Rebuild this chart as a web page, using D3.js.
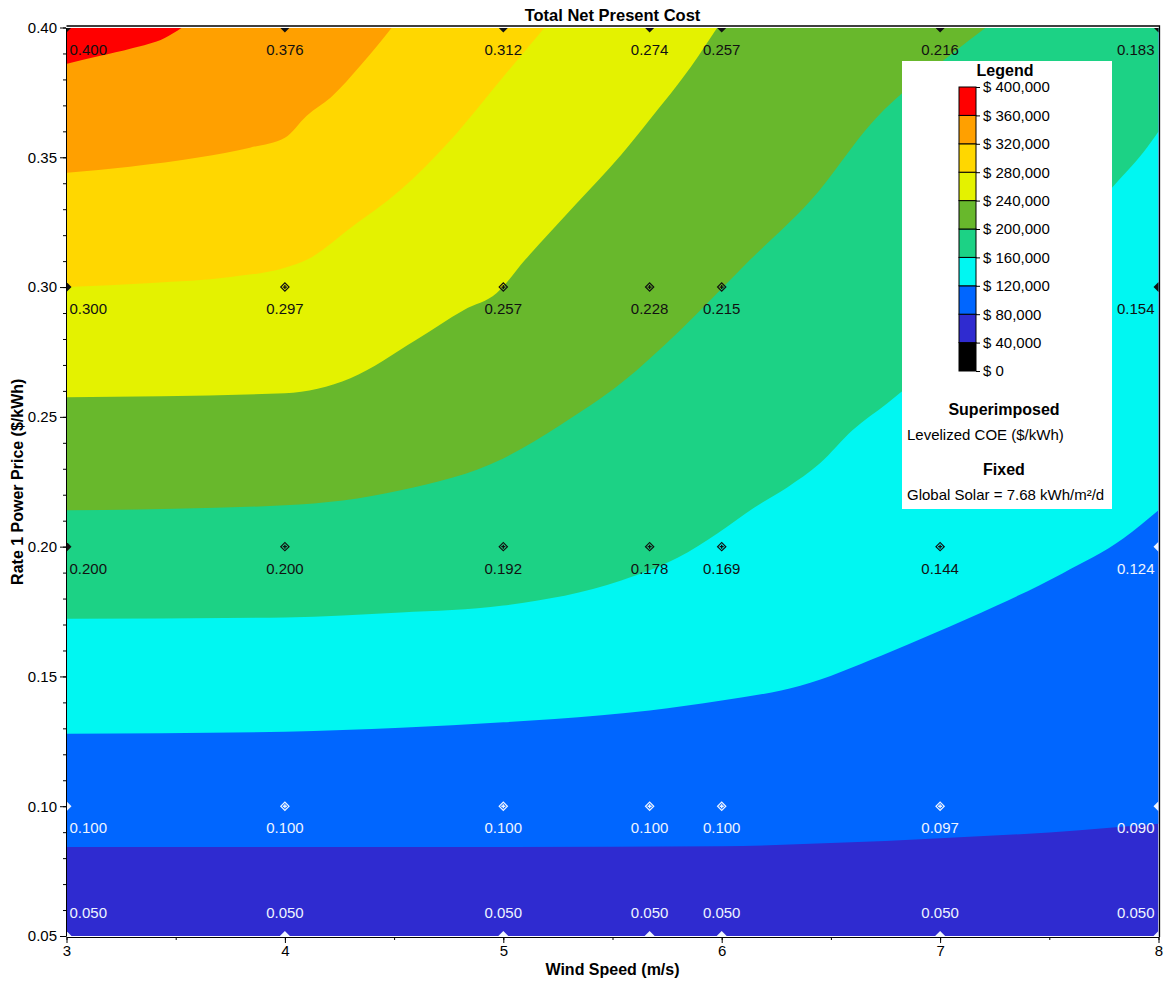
<!DOCTYPE html>
<html>
<head>
<meta charset="utf-8">
<script src="https://cdn.jsdelivr.net/npm/d3@7/dist/d3.min.js"></script>
<style>
  body { margin: 0; background: #fff; }
  svg text { font-family: "Liberation Sans", Arial, sans-serif; }
</style>
</head>
<body>
<svg id="chart" width="1165" height="983"></svg>
<script>
// superimposed grid (wind speed columns, power price rows)
const windSpeeds = [3, 4, 5, 5.67, 6, 7, 8];
const priceRows = [0.40, 0.30, 0.20, 0.10, 0.05];
// levelized COE ($/kWh), one list per price row, one value per wind speed
const coeAt040 = [0.400, 0.376, 0.312, 0.274, 0.257, 0.216, 0.183];
const coeAt030 = [0.300, 0.297, 0.257, 0.228, 0.215, null, 0.154]; // (7, 0.30) hidden by legend
const coeAt020 = [0.200, 0.200, 0.192, 0.178, 0.169, 0.144, 0.124];
const coeAt010 = [0.100, 0.100, 0.100, 0.100, 0.100, 0.097, 0.090];
const coeAt005 = [0.050, 0.050, 0.050, 0.050, 0.050, 0.050, 0.050];

// NPC legend levels and band colours (band i = levels[i]..levels[i+1])
const npcLevels = [0, 40000, 80000, 120000, 160000, 200000, 240000, 280000, 320000, 360000, 400000];
const npcColors = ["#000000", "#2f2bd0", "#0066ff", "#00f7f2", "#1cd285",
                   "#68b82c", "#e4f200", "#ffd700", "#ffa000", "#ff0000"];

// contour edges: [wind speed, power price where NPC crosses the level]
const edge80k  = [[3, 0.0843], [4, 0.0843], [5, 0.0843], [6, 0.0846], [6.5, 0.0858], [7, 0.0877], [7.5, 0.0899], [8, 0.0932]];
const edge120k = [[3, 0.1279], [4, 0.1287], [4.53, 0.1302], [5, 0.1323], [5.45, 0.135], [5.67, 0.1369], [6, 0.1407],
                  [6.36, 0.1464], [6.73, 0.158], [6.97, 0.1665], [7.26, 0.1773], [7.56, 0.1897], [7.84, 0.2032], [8, 0.214]];
const edge160k = [[3, 0.1722], [4, 0.1727], [4.53, 0.1746], [5, 0.1773], [5.54, 0.187], [5.8, 0.1958], [5.98, 0.2051],
                  [6.15, 0.2151], [6.3, 0.2228], [6.45, 0.2321], [6.6, 0.2449], [6.76, 0.2553], [7.79, 0.3386], [7.93, 0.3518], [8, 0.3599]];
const edge200k = [[3, 0.214], [4, 0.2159], [4.53, 0.2217], [5, 0.234], [5.26, 0.2468], [5.54, 0.263], [5.81, 0.2834],
                  [6.13, 0.3105], [6.41, 0.3336], [6.7, 0.3645], [7.05, 0.3896], [7.21, 0.40]];
const edge240k = [[3, 0.2576], [4, 0.2591], [4.3, 0.2649], [4.6, 0.2796], [4.82, 0.2912], [4.97, 0.2977], [5.1, 0.3105],
                  [5.33, 0.3317], [5.54, 0.351], [5.67, 0.3645], [5.86, 0.385], [5.98, 0.40]];
const edge280k = [[3, 0.30], [3.39, 0.3016], [3.75, 0.3039], [4, 0.3074], [4.1, 0.3105], [4.3, 0.3228], [4.53, 0.3375],
                  [4.76, 0.3568], [4.99, 0.380], [5.19, 0.40]];
const edge320k = [[3, 0.344], [3.29, 0.3464], [3.61, 0.35], [3.84, 0.3537], [4, 0.3575], [4.1, 0.366], [4.21, 0.373],
                  [4.35, 0.3857], [4.49, 0.40]];
const edge360k = [[3, 0.386], [3.15, 0.389], [3.3, 0.392], [3.45, 0.396], [3.53, 0.40]];

const xTicks = [3, 4, 5, 6, 7, 8];
const yTicks = [0.05, 0.10, 0.15, 0.20, 0.25, 0.30, 0.35, 0.40];

const svg = d3.select("#chart");
const x = d3.scaleLinear().domain([3, 8]).range([66.5, 1158.5]);
const y = d3.scaleLinear().domain([0.05, 0.40]).range([936, 27.5]);

// edges in ascending level order, each with the band colour above it
const edges = [edge80k, edge120k, edge160k, edge200k, edge240k, edge280k, edge320k, edge360k];
const baseBand = 1; // band below the lowest edge (40k-80k)

svg.append("clipPath").attr("id", "plotClip")
  .append("rect")
  .attr("x", x(3) + 0.5).attr("y", y(0.40) + 0.5)
  .attr("width", x(8) - x(3) - 0.5).attr("height", y(0.05) - y(0.40) - 0.5);

const plot = svg.append("g").attr("clip-path", "url(#plotClip)");

plot.append("rect")
  .attr("x", x(3)).attr("y", y(0.40))
  .attr("width", x(8) - x(3)).attr("height", y(0.05) - y(0.40))
  .attr("fill", npcColors[baseBand]);

const area = d3.area()
  .x(d => x(d[0]))
  .y0(d => y(d[1]))
  .y1(y(0.40) - 3)
  .curve(d3.curveMonotoneX);

plot.selectAll("path.band")
  .data(edges)
  .join("path")
  .attr("class", "band")
  .attr("fill", (d, i) => npcColors[baseBand + 1 + i])
  .attr("d", area);

// which band a grid point sits in, from the edge lists
function edgePrice(edge, ws) {
  if (ws > edge[edge.length - 1][0]) return Infinity;
  for (let i = 1; i < edge.length; i++) {
    if (ws <= edge[i][0]) {
      const a = edge[i - 1], b = edge[i];
      return a[1] + (b[1] - a[1]) * (ws - a[0]) / (b[0] - a[0]);
    }
  }
  return Infinity;
}
function bandAt(ws, price) {
  let band = baseBand;
  edges.forEach(e => { if (price > edgePrice(e, ws)) band += 1; });
  return band;
}

// superimposed labels and markers
const coeRows = [coeAt040, coeAt030, coeAt020, coeAt010, coeAt005];
const points = [];
priceRows.forEach((p, r) => {
  windSpeeds.forEach((ws, c) => {
    const v = coeRows[r][c];
    if (v == null) return;
    points.push({ws: ws, price: p, coe: v, dark: bandAt(ws, p) <= 2});
  });
});

const onEdge = d => d.ws === 3 || d.ws === 8 || d.price === 0.40 || d.price === 0.05;
const ink = d => d.dark ? "#eef4ff" : "#111";

const marks = plot.append("g");
const diamond = d3.symbol(d3.symbolSquare, 50);
const cross = d3.symbol(d3.symbolCross, 9);

marks.selectAll("path.edge")
  .data(points.filter(onEdge))
  .join("path")
  .attr("class", "edge")
  .attr("transform", d => `translate(${x(d.ws)},${y(d.price)}) rotate(45)`)
  .attr("d", diamond)
  .attr("fill", ink);

const inner = marks.selectAll("g.inner")
  .data(points.filter(d => !onEdge(d)))
  .join("g")
  .attr("class", "inner")
  .attr("transform", d => `translate(${x(d.ws)},${y(d.price)})`);
inner.append("path")
  .attr("transform", "rotate(45)")
  .attr("d", d3.symbol(d3.symbolSquare, 34))
  .attr("fill", "none")
  .attr("stroke", ink)
  .attr("stroke-width", 1.2);
inner.append("path")
  .attr("d", cross)
  .attr("fill", ink);

svg.append("g").selectAll("text")
  .data(points)
  .join("text")
  .attr("x", d => d.ws === 3 ? x(d.ws) + 3 : d.ws === 8 ? x(d.ws) - 4 : x(d.ws))
  .attr("y", d => d.price === 0.05 ? y(d.price) - 18 : y(d.price) + 27)
  .attr("text-anchor", d => d.ws === 3 ? "start" : d.ws === 8 ? "end" : "middle")
  .style("font-size", "15px")
  .attr("fill", ink)
  .text(d => d3.format(".3f")(d.coe));

// frame on top and right
svg.append("path")
  .attr("d", `M${x(3)},${y(0.40) - 1.5}H${x(8) + 1}V${y(0.05) + 1}`)
  .attr("fill", "none").attr("stroke", "#000").attr("stroke-width", 1.3);

// axes
svg.append("g")
  .attr("transform", `translate(${x(3) - 0.5},0)`)
  .call(d3.axisLeft(y).tickValues(yTicks).tickFormat(d3.format(".2f")).tickSize(6).tickSizeOuter(0).tickPadding(3));
svg.append("g")
  .attr("transform", `translate(${x(3) - 0.5},0)`)
  .call(d3.axisLeft(y).tickValues(d3.range(5, 41).map(v => v / 100)).tickFormat("").tickSize(3).tickSizeOuter(0));

svg.append("g")
  .attr("transform", `translate(0,${y(0.05) + 1})`)
  .call(d3.axisBottom(x).tickValues(xTicks).tickFormat(d3.format("d")).tickSize(6).tickSizeOuter(0).tickPadding(2));
svg.append("g")
  .attr("transform", `translate(0,${y(0.05) + 1})`)
  .call(d3.axisBottom(x).tickValues(d3.range(3, 8.5, 0.5)).tickFormat("").tickSize(3).tickSizeOuter(0));

svg.selectAll(".tick text").style("font-size", "15px").attr("font-family", null).attr("fill", "#000");
svg.selectAll(".domain, .tick line").attr("stroke", "#000");

// titles
svg.append("text")
  .attr("x", (x(3) + x(8)) / 2).attr("y", 21)
  .attr("text-anchor", "middle").style("font-size", "16.5px").attr("font-weight", "bold")
  .text("Total Net Present Cost");
svg.append("text")
  .attr("x", (x(3) + x(8)) / 2).attr("y", 975)
  .attr("text-anchor", "middle").style("font-size", "16px").attr("font-weight", "bold")
  .text("Wind Speed (m/s)");
svg.append("text")
  .attr("transform", `translate(23,${(y(0.05) + y(0.40)) / 2}) rotate(-90)`)
  .attr("text-anchor", "middle").style("font-size", "16px").attr("font-weight", "bold")
  .text("Rate 1 Power Price ($/kWh)");

// legend
const legend = svg.append("g");
legend.append("rect")
  .attr("x", 902).attr("y", 61).attr("width", 210).attr("height", 448)
  .attr("fill", "#fff");
legend.append("text")
  .attr("x", 1005).attr("y", 76).attr("text-anchor", "middle")
  .style("font-size", "16px").attr("font-weight", "bold").text("Legend");

const ly = d3.scaleLinear().domain([0, 400000]).range([371, 87]);
legend.selectAll("rect.key")
  .data(npcColors)
  .join("rect")
  .attr("class", "key")
  .attr("x", 959).attr("width", 17)
  .attr("y", (d, i) => ly(npcLevels[i + 1]))
  .attr("height", (d, i) => ly(npcLevels[i]) - ly(npcLevels[i + 1]))
  .attr("fill", d => d)
  .attr("stroke", "#000").attr("stroke-width", 1);
legend.append("g")
  .attr("transform", "translate(976,0)")
  .call(d3.axisRight(ly).tickValues(npcLevels).tickSize(4).tickPadding(3).tickSizeOuter(0)
    .tickFormat(d => "$ " + d3.format(",")(d)))
  .call(g => g.select(".domain").remove())
  .call(g => g.selectAll("text").style("font-size", "15px").attr("font-family", null).attr("fill", "#000"))
  .call(g => g.selectAll("line").attr("stroke", "#000"));

legend.append("text")
  .attr("x", 1004).attr("y", 415).attr("text-anchor", "middle")
  .style("font-size", "16px").attr("font-weight", "bold").text("Superimposed");
legend.append("text")
  .attr("x", 907).attr("y", 440).style("font-size", "15px").text("Levelized COE ($/kWh)");
legend.append("text")
  .attr("x", 1004).attr("y", 475).attr("text-anchor", "middle")
  .style("font-size", "16px").attr("font-weight", "bold").text("Fixed");
legend.append("text")
  .attr("x", 907).attr("y", 500).style("font-size", "15px").text("Global Solar = 7.68 kWh/m²/d");
</script>
</body>
</html>
